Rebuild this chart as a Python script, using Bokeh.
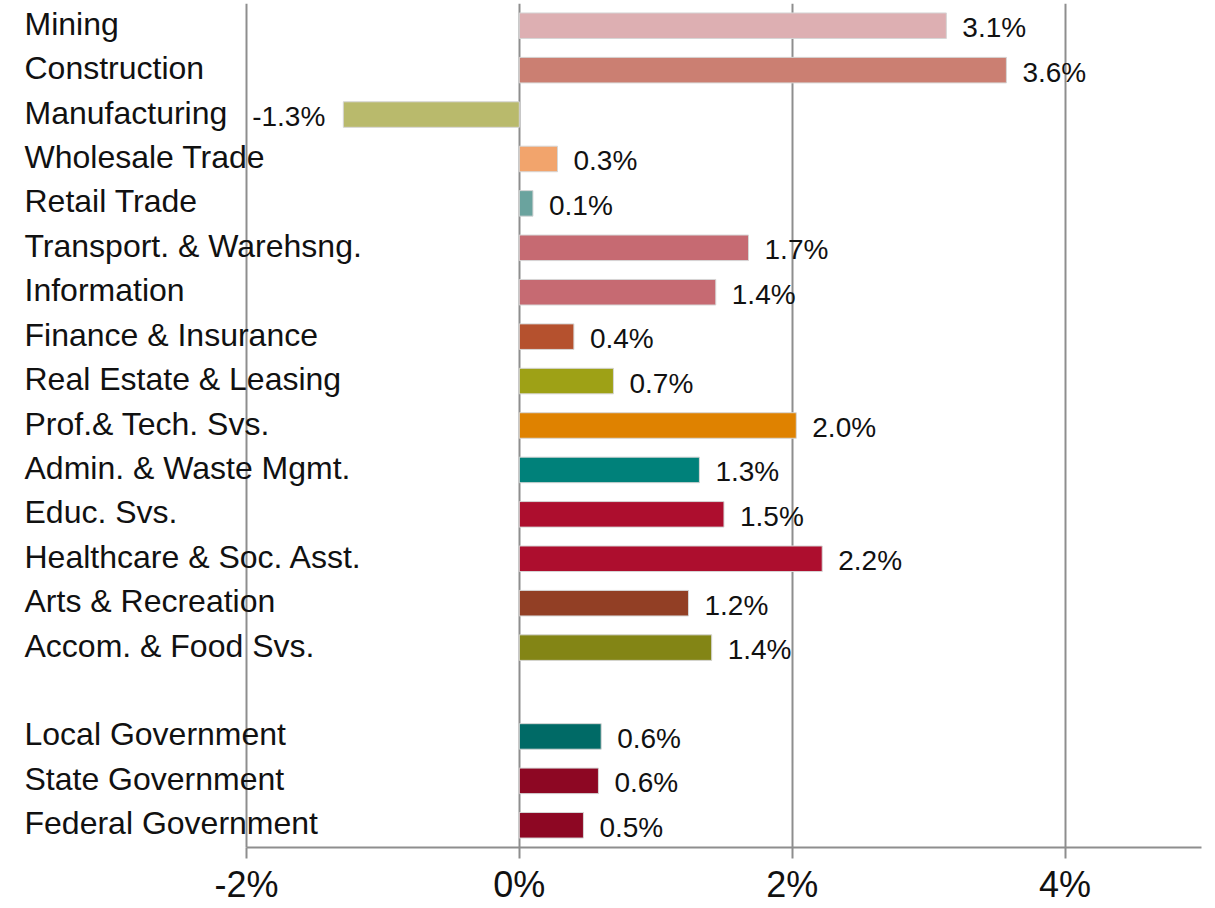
from bokeh.plotting import figure
from bokeh.models import ColumnDataSource, Range1d, FixedTicker
from bokeh.core.properties import value
from bokeh.embed import file_html
from bokeh.resources import INLINE

categories = ["Mining", "Construction", "Manufacturing", "Wholesale Trade", "Retail Trade",
              "Transport. & Warehsng.", "Information", "Finance & Insurance",
              "Real Estate & Leasing", "Prof.& Tech. Svs.", "Admin. & Waste Mgmt.",
              "Educ. Svs.", "Healthcare & Soc. Asst.", "Arts & Recreation",
              "Accom. & Food Svs.", "Local Government", "State Government",
              "Federal Government"]
values = [3.13, 3.57, -1.29, 0.28, 0.10, 1.68, 1.44, 0.40, 0.69, 2.03, 1.32, 1.50,
          2.22, 1.24, 1.41, 0.60, 0.58, 0.47]
colors = ["#DDAFB2", "#CB7F72", "#B9BA6C", "#F2A46C", "#6AA39E", "#C66A72", "#C66A72",
          "#B5512E", "#9EA116", "#DF8200", "#00817A", "#AD0E2E", "#AD0E2E", "#923F25",
          "#838515", "#006A66", "#8D0723", "#8D0723"]
tick_values = [-2, 0, 2, 4]
tick_labels = ["-2%", "0%", "2%", "4%"]
gap_before = 15  # blank row before the government rows

FONT = "Liberation Sans"
GRID = "#8e8e8e"

rows = [i if i < gap_before else i + 1 for i in range(len(categories))]
labels = [f"{v:.1f}%" for v in values]

x_start, x_end = -3.744, 5.0
y_top, y_bottom = -0.5, 18.5
frame_w = 1193

p = figure(width=1206, height=907, output_backend="svg", toolbar_location=None,
           x_range=Range1d(x_start, x_end), y_range=Range1d(y_bottom, y_top),
           y_axis_location=None, min_border_left=8, min_border_right=5,
           min_border_top=3, min_border_bottom=0)
p.outline_line_color = None
p.background_fill_color = "white"
p.border_fill_color = "white"

p.xgrid.ticker = FixedTicker(ticks=tick_values)
p.xgrid.grid_line_color = GRID
p.xgrid.grid_line_width = 2
p.ygrid.grid_line_color = None

ax = p.xaxis[0]
ax.ticker = FixedTicker(ticks=tick_values)
ax.major_label_overrides = {t: l for t, l in zip(tick_values, tick_labels)}
ax.bounds = (tick_values[0], x_end)
ax.axis_line_color = GRID
ax.axis_line_width = 2
ax.major_tick_line_color = GRID
ax.major_tick_line_width = 2
ax.major_tick_out = 11
ax.major_tick_in = 0
ax.minor_tick_line_color = None
ax.major_label_text_font = FONT
ax.major_label_text_font_size = "36px"
ax.major_label_text_color = "#111111"
ax.major_label_standoff = 5

src = ColumnDataSource(dict(y=rows, v=values, color=colors, cat=categories, lab=labels))
p.hbar(y="y", left=0, right="v", height=0.575, fill_color="color",
       line_color="#d6d6d6", line_width=1, source=src)

px_per_unit = frame_w / (x_end - x_start)
label_x = x_start + 16 / px_per_unit
p.text(x=label_x, y="y", text="cat", source=src, text_font=value(FONT),
       text_font_size="32px", text_baseline="middle", text_align="left",
       text_color="#111111", y_offset=-2)

pos = [i for i, v in enumerate(values) if v >= 0]
neg = [i for i, v in enumerate(values) if v < 0]
src_pos = ColumnDataSource(dict(y=[rows[i] for i in pos], v=[values[i] for i in pos],
                                lab=[labels[i] for i in pos]))
src_neg = ColumnDataSource(dict(y=[rows[i] for i in neg], v=[values[i] for i in neg],
                                lab=[labels[i] for i in neg]))
p.text(x="v", y="y", text="lab", source=src_pos, text_font=value(FONT),
       text_font_size="28px", text_baseline="middle", text_align="left",
       text_color="#111111", x_offset=16, y_offset=2)
p.text(x="v", y="y", text="lab", source=src_neg, text_font=value(FONT),
       text_font_size="28px", text_baseline="middle", text_align="right",
       text_color="#111111", x_offset=-18, y_offset=2)

open("out.html", "w").write(file_html(p, INLINE))
